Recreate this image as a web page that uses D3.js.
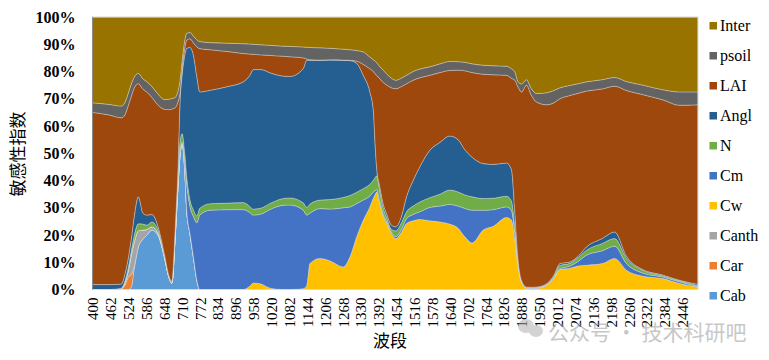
<!DOCTYPE html>
<html><head><meta charset="utf-8">
<script src="https://cdn.jsdelivr.net/npm/d3@7"></script>
<style>body{margin:0;background:#fff}svg{display:block}</style>
</head><body><svg id="c" width="769" height="360"></svg>
<script>
// wavelength (nm) sample points
const wavelengths = [400,460,500,512,524,535,545,559,575,588,606,629,650,665,675,687,697,704,711,720,727,738,750,762,772,808,870,923,945,958,985,1016,1062,1085,1131,1143,1154,1189,1224,1270,1293,1316,1339,1362,1374,1380,1386,1395,1408,1421,1437,1452,1472,1489,1512,1535,1570,1605,1639,1668,1690,1717,1755,1790,1836,1853,1865,1876,1888,1905,1922,1940,1975,2000,2021,2056,2084,2113,2168,2211,2252,2309,2378,2436,2500];

// sensitivity index shares (%) per parameter
const Cab   = [0,0,0,0,0,1,8,15.6,18.5,19.9,21.8,19.5,11.5,4.5,2.3,20,39,50,53.5,44,29,20.6,12,3.5,0,0,0,0,0,0,0,0,0,0,0,0,0,0,0,0,0,0,0,0,0,0,0,0,0,0,0,0,0,0,0,0,0,0,0,0,0,0,0,0,0,0,0,0,0,0,0,0,0,0,0,0,0,0,0,0,0,0,0,0,0];
const Car   = [0,0,0.3,1.5,4.5,4.5,0.5,0,0,0,0,0,0,0,0,0,0,0,0,0,0,0,0,0,0,0,0,0,0,0,0,0,0,0,0,0,0,0,0,0,0,0,0,0,0,0,0,0,0,0,0,0,0,0,0,0,0,0,0,0,0,0,0,0,0,0,0,0,0,0,0,0,0,0,0,0,0,0,0,0,0,0,0,0,0];
const Canth = [0,0,0,1,2.5,7.5,9,6,3.3,2.1,1.2,0.7,0.3,0.1,0,0,0,0,0,0,0,0,0,0,0,0,0,0,0,0,0,0,0,0,0,0,0,0,0,0,0,0,0,0,0,0,0,0,0,0,0,0,0,0,0,0,0,0,0,0,0,0,0,0,0,0,0,0,0,0,0,0,0,0,0,0,0,0,0,0,0,0,0,0,0];
const Cw    = [0,0,0,0,0,0,0,0,0,0,0,0,0,0,0,0,0,0,0,0,0,0,0,0,0,0,0,0,1.2,2.4,2,0.5,0,0,0.3,1.5,9.5,11.4,10.5,8.3,12,19.3,25.4,30.3,33.5,34.8,35.8,32,27,24.2,20.5,18.7,21.1,24.2,25.2,25.7,25.2,24.8,24,22.5,19.5,17.1,21.8,23.2,26.4,25.5,18,8.5,2.5,0.4,0.3,0.4,1.5,4,7.3,7.8,8.6,8.9,9.5,11.4,7.1,4.9,4,2.2,0.9];
const Cm    = [0,0,0,0,0,0,0,0,0,0,0,0,0,0,0,0,0,0.5,0.5,3,9.5,9.9,14.8,21,27.3,29.1,29.3,29.3,27.1,24.9,25.7,28.9,30.9,31,28.8,25.8,18.5,18.3,19,21.7,18.3,12.2,7.4,4,2.3,1.5,0.8,0.8,0.7,0.6,0.5,0.7,1.1,1.8,2.3,2.8,4.9,5.8,7.2,8.1,10.3,12,7.3,6.1,3.9,3.5,2.5,1,0.3,0.2,0.2,0.2,0.2,0.3,0.3,0.8,1.7,3.7,4.7,4.5,2.4,1.1,0.6,0.6,0.2];
const N     = [0,0,0.2,0.5,1,1.5,2.5,2.5,2.2,1.6,1.8,1.1,0.4,0.2,0.3,1.5,3.5,4,3.2,3,2.8,2.5,2.4,2.5,2.5,2.4,2.4,2.6,2.2,2.2,2.2,2.2,2.5,2.6,2.7,2.9,3.3,3.1,3.5,3.8,4.2,4.2,4.2,4.3,4.3,4.7,5.1,4.2,2.3,1.4,1,2.1,2.4,2.5,3.1,3.6,3.6,4.4,5.3,5.2,5,4.9,4.3,4.2,3.9,3.5,2,0.5,0.2,0.1,0.1,0.1,0.2,0.5,1.2,1,1.4,1.8,2.7,2.8,1.9,1,0.4,0.4,0.3];
const Angl  = [1.8,1.8,1.5,2.5,3.5,4.5,7,9.9,4,3.7,2.7,1.2,0.5,0.3,0.4,1.5,3.5,15.5,21.8,36,47.2,55.8,56.8,51,42.7,41.6,42.8,44.3,48,51.2,50.8,47.9,44.9,44.6,49.3,53.9,52.8,51.3,51.2,50.3,49.5,47.3,41.6,33.9,25.7,12.6,2.3,1.5,1.5,1.3,1.6,1.5,2.4,5.5,9.4,12.9,17.4,19,19.8,19.2,16.7,14.5,12.8,12.4,12.2,11.5,5.5,1,0.3,0.2,0.2,0.2,0.2,0.4,0.7,0.5,0.5,1.2,1.8,2.4,0.8,0.3,0.3,0.2,0.5];
const LAI   = [63.2,62.2,61,58.5,56,52,47,41.5,45.5,45.2,43,45,53.4,60.9,63.2,43.8,23,2.5,2,2.5,3,3.2,4.5,11,15.9,14.9,12.8,10.4,7.9,5.6,5.4,6.4,7.3,7.2,3.9,0.5,0.2,0.1,0.1,0.1,0.1,0.8,4,8.5,14.2,25.6,34.5,39,44.5,47.5,50.4,50.7,47.5,41.5,36.8,32.7,27.5,25.6,24.1,25.5,28.8,31.1,32.8,32.9,32.2,33.5,48.8,63.3,69.2,74.1,70.5,67.9,65.7,63.3,60.5,61.1,59.8,57.2,54.9,53.5,60.8,64.2,64.3,64.2,65.9];
const psoil = [3.5,3.9,4.3,4.5,4.5,4.5,4,3.8,3.8,3.8,4,4,3.6,3.8,3.9,3.7,4,4.5,3,3,2.5,2.3,2.5,2.6,2.6,2.6,3.1,3.6,3.7,3.7,3.7,3.7,3.7,3.8,4,4.3,4.5,4.5,4.2,4,3.9,3.9,4.6,4.3,4.3,4.6,4.7,4.5,4.5,4,3.5,3.1,3.1,3.1,3.2,3.2,3.1,3.2,3.3,3.1,3.1,3.2,3.3,3.3,3.3,3.5,3,1.9,2.9,2,2.4,3.1,4.4,4.5,4,3.7,3.5,3.4,3.4,3.2,3.3,3.5,3.7,4.9,4.7];
const Inter = [31.5,32.1,32.7,31.5,28,24.5,22,20.7,22.7,23.7,25.5,28.5,30.3,30.2,29.9,29.5,27,23,16,8.5,6,5.7,7,8.4,9,9.4,9.6,9.8,9.9,10,10.2,10.4,10.7,10.8,11,11.1,11.2,11.3,11.5,11.8,12,12.3,12.8,14.7,15.7,16.2,16.8,18,19.5,21,22.5,23.2,22.4,21.4,20,19.1,18.3,17.2,16.3,16.4,16.6,17.2,17.7,17.9,18.1,19,20.2,23.8,24.6,23,26.3,28.1,27.8,27,26,25.1,24.5,23.8,23,22.2,23.7,25,26.7,27.5,27.5];

const seriesNames = ["Cab","Car","Canth","Cw","Cm","N","Angl","LAI","psoil","Inter"];
const seriesData  = [Cab,Car,Canth,Cw,Cm,N,Angl,LAI,psoil,Inter];
const colors = ["#5B9BD5","#ED7D31","#A5A5A5","#FFC000","#4472C4","#70AD47","#255E91","#9E480E","#636363","#997300"];
const xTickLabels = [400,462,524,586,648,710,772,834,896,958,1020,1082,1144,1206,1268,1330,1392,1454,1516,1578,1640,1702,1764,1826,1888,1950,2012,2074,2136,2198,2260,2322,2384,2446];
const yTickLabels = [0,10,20,30,40,50,60,70,80,90,100];

const rows = wavelengths.map((w,i)=>{const r={wl:w}; seriesNames.forEach((n,k)=>r[n]=seriesData[k][i]); return r;});

const svg = d3.select("#c");
const L=92.5, R=698, T=17, B=289.5;
const x = d3.scaleLinear().domain([400,2500]).range([L,R]);
const y = d3.scaleLinear().domain([0,1]).range([B,T]);

const stack = d3.stack().keys(seriesNames).offset(d3.stackOffsetExpand);
const layers = stack(rows);
const area = d3.area().x(d=>x(d.data.wl)).y0(d=>y(d[0])).y1(d=>y(d[1])).curve(d3.curveMonotoneX);

svg.append("g").selectAll("path").data(layers).join("path")
  .attr("d",area).attr("fill",(d,i)=>colors[i])
  .attr("stroke","#e6e6e6").attr("stroke-width",0.5).attr("stroke-opacity",0.7);

// plot border
svg.append("rect").attr("x",L).attr("y",T).attr("width",R-L).attr("height",B-T)
  .attr("fill","none").attr("stroke","#d9d9d9").attr("stroke-width",1);
svg.append("line").attr("x1",L).attr("x2",L).attr("y1",T).attr("y2",B).attr("stroke","#8c8c8c");

const SERIF = "Liberation Serif";
// y axis
const ya = d3.axisLeft(y).tickValues(yTickLabels.map(v=>v/100)).tickFormat((d,i)=>yTickLabels[i]+"%").tickSize(0).tickPadding(17);
const gy = svg.append("g").attr("transform",`translate(${L},0)`).call(ya);
gy.attr("font-family",SERIF).attr("font-size",16);
gy.select(".domain").remove();
gy.selectAll("text").attr("font-family",SERIF).attr("font-size",16).attr("font-weight","bold").attr("fill","#000");

// x axis
const xa = d3.axisBottom(x).tickValues(xTickLabels).tickFormat(d=>d).tickSize(0);
const gx = svg.append("g").attr("transform",`translate(0,${B})`).call(xa);
gx.attr("font-family",SERIF).attr("font-size",15);
gx.select(".domain").remove();
gx.selectAll("text").attr("font-family",SERIF).attr("font-size",15).attr("fill","#000")
  .attr("text-anchor","end").attr("transform","rotate(-90)").attr("x",-8).attr("y",0).attr("dy","0.35em");

// titles
svg.append("text").attr("x",390).attr("y",347).attr("text-anchor","middle")
  .attr("font-family","Noto Sans CJK SC").attr("font-size",17).text("波段");
svg.append("text").attr("transform","translate(24,154) rotate(-90)").attr("text-anchor","middle")
  .attr("font-family","Noto Sans CJK SC").attr("font-size",17).text("敏感性指数");

// legend
const leg = svg.append("g");
const order = seriesNames.map((n,i)=>i).reverse();
order.forEach((k,j)=>{
  leg.append("rect").attr("x",709.5).attr("y",22 + j*30).attr("width",7.5).attr("height",7.5).attr("fill",colors[k]);
  leg.append("text").attr("x",720).attr("y",30.5 + j*30).attr("font-family",SERIF).attr("font-size",16).text(seriesNames[k]);
});

// watermark
const wm = svg.append("g").attr("opacity",0.55);
wm.append("ellipse").attr("cx",526).attr("cy",326).attr("rx",8).attr("ry",7).attr("fill","#b0b0b0");
wm.append("ellipse").attr("cx",536).attr("cy",331).attr("rx",7).attr("ry",6).attr("fill","#b0b0b0");
wm.append("text").attr("x",548).attr("y",340).attr("font-family","Noto Sans CJK SC")
  .attr("font-size",21).attr("fill","#9a9a9a").text("公众号 · 技术科研吧");
</script>
</body></html>
